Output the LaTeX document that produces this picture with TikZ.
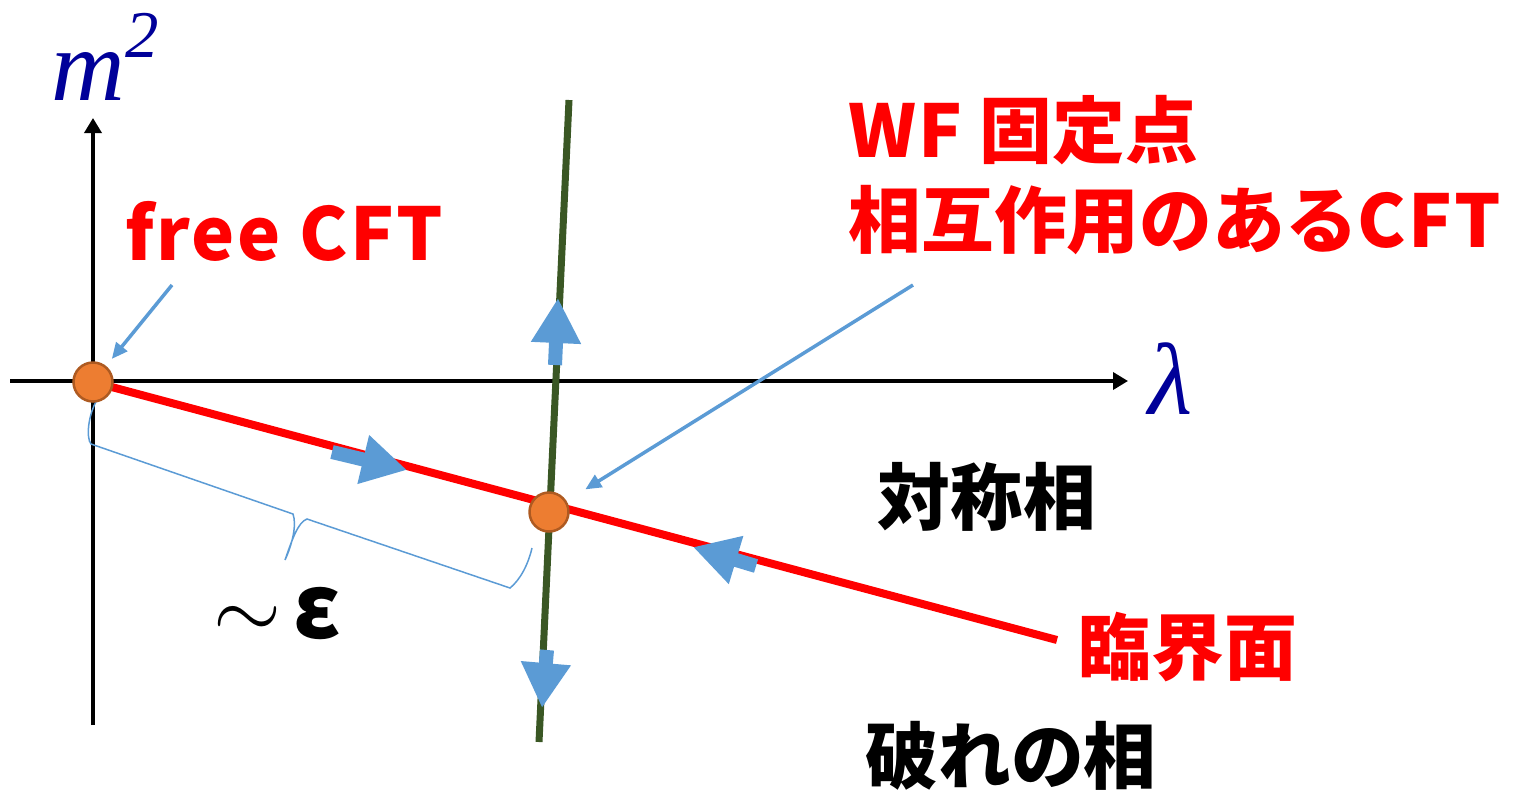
\documentclass[tikz,border=0pt]{standalone}
\usepackage{fontspec}
\usetikzlibrary{arrows.meta}
\newfontfamily\jp{Noto Sans CJK JP}
\newfontfamily\tms{Liberation Serif}
\definecolor{bluefive}{HTML}{5B9BD5}
\definecolor{critred}{HTML}{FF0000}
\definecolor{dotfill}{HTML}{ED7D31}
\definecolor{dotdraw}{HTML}{AE5A21}
\definecolor{greenline}{HTML}{3A5724}
\definecolor{axblue}{HTML}{000099}
\newcommand{\latsp}[1]{{\addfontfeature{LetterSpace=3}#1}}
\tikzset{
  axis/.style={line width=0.035cm, black, -{Triangle[width=0.17cm,length=0.15cm]}},
  blk/.style={draw=bluefive, line width=0.14cm, -{Triangle[width=0.47cm,length=0.45cm]}},
  callout/.style={draw=bluefive, line width=0.035cm, -{Triangle[width=0.14cm,length=0.16cm]}},
  dot/.style={circle, fill=dotfill, draw=dotdraw, line width=0.025cm, minimum size=0.39cm, inner sep=0pt},
  lbl/.style={inner sep=0pt, anchor=base west, font=\jp\bfseries\fontsize{20.7pt}{24pt}\selectfont},
  brace/.style={draw=bluefive, line width=0.015cm}
}
\begin{document}
\begin{tikzpicture}
\useasboundingbox (0,0) rectangle (15.19,-7.91);
% axes
\coordinate (xs) at (0.10,-3.81);
\coordinate (xe) at (11.28,-3.81);
\coordinate (ys) at (0.93,-7.25);
\coordinate (ye) at (0.93,-1.18);
\draw[axis] (xs) -- (xe);
\draw[axis] (ys) -- (ye);
% lines
\coordinate (gtop) at (5.69,-1.00);
\coordinate (gbot) at (5.39,-7.42);
\draw[greenline, line width=0.07cm] (gtop) -- (gbot);
\coordinate (rend) at (10.57,-6.40);
\coordinate (fc) at (0.93,-3.82);
\draw[critred, line width=0.08cm] (fc) -- (rend);
% brace
\draw[brace] (0.97,-4.00) .. controls (0.88,-4.15) and (0.86,-4.38) .. (0.91,-4.44)
  -- (2.93,-5.14) .. controls (2.97,-5.25) and (2.92,-5.45) .. (2.85,-5.60)
  .. controls (2.92,-5.40) and (2.98,-5.22) .. (3.07,-5.19)
  -- (5.10,-5.88) .. controls (5.20,-5.80) and (5.28,-5.65) .. (5.32,-5.48);
% block arrows
\coordinate (a1t) at (3.32,-4.52); \coordinate (a1h) at (4.07,-4.70);
\coordinate (a2t) at (7.56,-5.66); \coordinate (a2h) at (6.93,-5.47);
\coordinate (a3t) at (5.55,-3.65); \coordinate (a3h) at (5.58,-2.98);
\coordinate (a4t) at (5.47,-6.50); \coordinate (a4h) at (5.42,-7.08);
\draw[blk] (a1t) -- (a1h);
\draw[blk] (a2t) -- (a2h);
\draw[blk] (a3t) -- (a3h);
\draw[blk] (a4t) -- (a4h);
% dots
\node[dot] (free) at (fc) {};
\node[dot] (wf) at (5.49,-5.12) {};
% callouts
\coordinate (c1) at (1.72,-2.85);
\coordinate (c2) at (9.13,-2.85);
\draw[callout, shorten >=0.09cm] (c1) -- (free);
\draw[callout, shorten >=0.22cm] (c2) -- (wf);
% axis labels
\node[inner sep=0pt, anchor=base west, text=axblue, font=\tms\itshape\fontsize{29pt}{32pt}\selectfont] (msq) at (0.51,-1.00) {m\raisebox{0.42em}{\fontsize{19pt}{20pt}\selectfont 2}};
\node[inner sep=0pt, anchor=base west, text=axblue, font=\tms\itshape\fontsize{29pt}{32pt}\selectfont] (lam) at (11.48,-4.14) {λ};
% labels
\node[lbl, text=critred] (freecft) at (1.25,-2.60) {\latsp{free CFT}};
\node[lbl, text=critred] (wf1) at (8.48,-1.57) {\latsp{WF} 固定点};
\node[lbl, text=critred] (wf2) at (8.48,-2.47) {相互作用のある\latsp{CFT}};
\node[lbl] (sym) at (8.77,-5.24) {対称相};
\node[lbl, text=critred] (crit) at (10.78,-6.74) {臨界面};
\node[lbl] (brk) at (8.65,-7.83) {破れの相};
\node[inner sep=0pt, anchor=base west] (eps) at (2.13,-6.38) {\fontsize{27pt}{28pt}\selectfont$\sim$\hspace{0.12em}{\jp\bfseries\fontsize{25pt}{26pt}\selectfont ε}};
\end{tikzpicture}
\end{document}
